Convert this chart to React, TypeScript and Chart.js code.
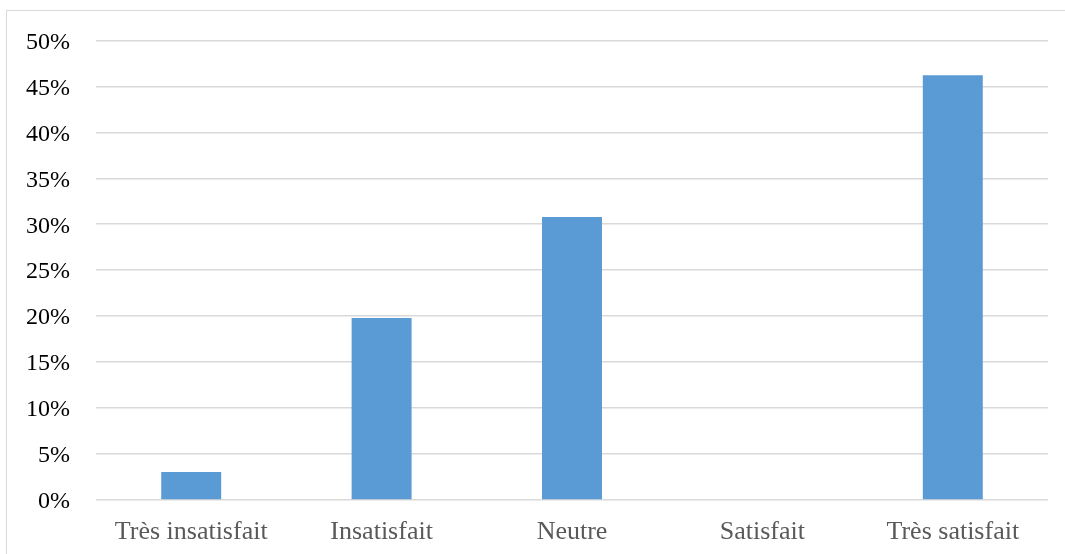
import React, { useEffect, useRef } from "react";
import { Chart, registerables } from "chart.js";

Chart.register(...registerables);

const categories = ["Très insatisfait", "Insatisfait", "Neutre", "Satisfait", "Très satisfait"];
const percentValues = [3.05, 19.8, 30.8, 0, 46.2];
const yTickValues = [0, 5, 10, 15, 20, 25, 30, 35, 40, 45, 50];

export default function App() {
  const ref = useRef<HTMLCanvasElement | null>(null);

  useEffect(() => {
    document.body.style.margin = "0";
    const ctx = ref.current!.getContext("2d")!;
    const chart = new Chart(ctx, {
      type: "bar",
      data: {
        labels: categories,
        datasets: [
          {
            data: percentValues,
            backgroundColor: "#5b9bd5",
            borderWidth: 0,
            categoryPercentage: 1,
            barPercentage: 0.315,
          },
        ],
      },
      options: {
        animation: false,
        responsive: false,
        maintainAspectRatio: false,
        layout: { padding: { left: 0, right: 17, top: 40, bottom: 0 } },
        plugins: { legend: { display: false }, tooltip: { enabled: false } },
        scales: {
          x: {
            grid: { display: false, drawTicks: false },
            border: { display: false },
            ticks: {
              color: "#595959",
              font: { family: "'Liberation Serif', 'Times New Roman', serif", size: 26 },
              padding: 17,
              maxRotation: 0,
              autoSkip: false,
            },
            afterFit: (s: any) => {
              s.height = 54;
            },
          },
          y: {
            min: 0,
            max: 50,
            afterBuildTicks: (s: any) => {
              s.ticks = yTickValues.map((v) => ({ value: v }));
            },
            grid: { color: "#d9d9d9", lineWidth: 1.5, drawTicks: false },
            border: { display: false },
            ticks: {
              color: "#000000",
              font: { family: "'Liberation Serif', 'Times New Roman', serif", size: 24 },
              padding: 26,
              labelOffset: 2,
              callback: (v: any) => v + "%",
            },
            afterFit: (s: any) => {
              s.width = 96;
            },
          },
        },
      },
    });
    return () => chart.destroy();
  }, []);

  return (
    <div style={{ position: "relative", width: 1065, height: 554, background: "#fff" }}>
      <div
        style={{
          position: "absolute",
          left: 6,
          top: 10,
          width: 1062,
          height: 550,
          border: "1.5px solid #d9d9d9",
          boxSizing: "border-box",
        }}
      />
      <canvas ref={ref} width={1065} height={554} style={{ position: "absolute", left: 0, top: 0, display: "block" }} />
    </div>
  );
}
